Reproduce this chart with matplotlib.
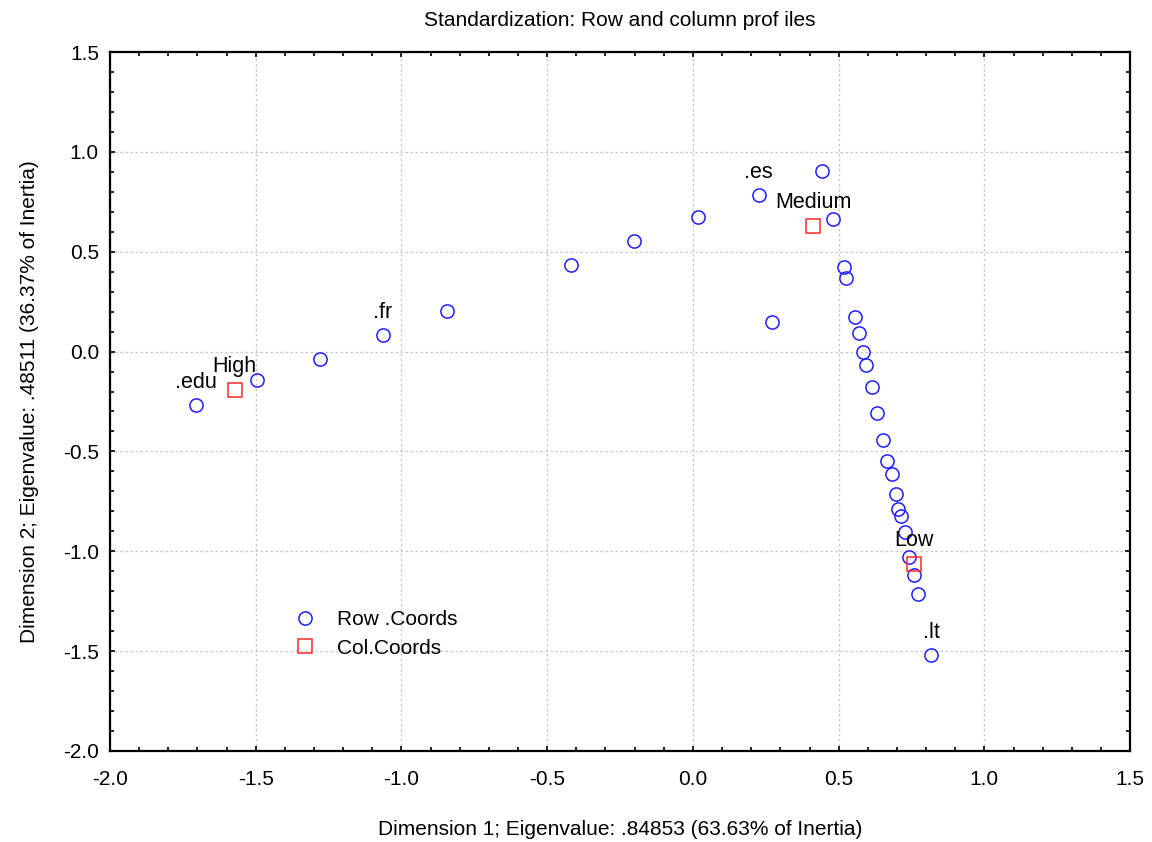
import matplotlib
matplotlib.use("Agg")
import matplotlib.pyplot as plt
from matplotlib.ticker import MultipleLocator, FormatStrFormatter

plt.rcParams['font.family'] = ['Liberation Sans', 'DejaVu Sans']

# Row coordinates (Dimension 1, Dimension 2)
row_x = [-1.706, -1.496, -1.280, -1.063, -0.845, -0.419, -0.201, 0.016, 0.226, 0.444,
         0.480, 0.270, 0.517, 0.525, 0.556, 0.571, 0.584, 0.594, 0.615, 0.630,
         0.653, 0.667, 0.682, 0.697, 0.705, 0.713, 0.728, 0.742, 0.757, 0.772, 0.817]
row_y = [-0.268, -0.144, -0.035, 0.083, 0.203, 0.434, 0.555, 0.674, 0.784, 0.903,
         0.664, 0.150, 0.425, 0.369, 0.172, 0.095, -0.004, -0.069, -0.179, -0.309,
         -0.441, -0.549, -0.614, -0.713, -0.788, -0.823, -0.905, -1.027, -1.119, -1.215, -1.521]
row_labels = {0: ".edu", 3: ".fr", 8: ".es", 30: ".lt"}

# Column coordinates
col_names = ["High", "Medium", "Low"]
col_x = [-1.572, 0.413, 0.757]
col_y = [-0.190, 0.630, -1.062]

fig = plt.figure(figsize=(11.52, 8.42), dpi=100)
ax = fig.add_axes([0.0955, 0.1081, 0.8855, 0.8301])

ax.plot(row_x, row_y, linestyle='none', marker='o', markersize=9.5,
        markerfacecolor='none', markeredgecolor='#1f1fff', markeredgewidth=1.1,
        label='Row .Coords', zorder=3)
ax.plot(col_x, col_y, linestyle='none', marker='s', markersize=9.5,
        markerfacecolor='none', markeredgecolor='#ff2a2a', markeredgewidth=1.1,
        label='Col.Coords', zorder=3)

for i, lab in row_labels.items():
    ax.annotate(lab, (row_x[i], row_y[i]), xytext=(0, 16.5), textcoords='offset points',
                ha='center', va='center', fontsize=15.5)
for name, x, y in zip(col_names, col_x, col_y):
    ax.annotate(name, (x, y), xytext=(0, 16.5), textcoords='offset points',
                ha='center', va='center', fontsize=15.5)

ax.set_xlim(-2.0, 1.5)
ax.set_ylim(-2.0, 1.5)
ax.xaxis.set_major_locator(MultipleLocator(0.5))
ax.yaxis.set_major_locator(MultipleLocator(0.5))
ax.xaxis.set_minor_locator(MultipleLocator(0.1))
ax.yaxis.set_minor_locator(MultipleLocator(0.1))
ax.xaxis.set_major_formatter(FormatStrFormatter('%.1f'))
ax.yaxis.set_major_formatter(FormatStrFormatter('%.1f'))
ax.tick_params(which='both', direction='in', top=True, right=True, width=1.2)
ax.tick_params(which='major', length=3.5, labelsize=15)
ax.tick_params(which='minor', length=3)
ax.tick_params(axis='x', which='major', pad=14)
ax.tick_params(axis='y', which='major', pad=8)
for sp in ax.spines.values():
    sp.set_linewidth(1.6)

ax.grid(True, which='major', linestyle=(0, (2, 2)), color='#c8c8c8', linewidth=0.9)
ax.set_axisbelow(True)

ax.set_xlabel('Dimension 1; Eigenvalue: .84853 (63.63% of Inertia)', fontsize=15, labelpad=22)
ax.set_ylabel('Dimension 2; Eigenvalue: .48511 (36.37% of Inertia)', fontsize=15, labelpad=17)
ax.set_title('Standardization: Row and column prof iles', fontsize=15, pad=19)

ax.legend(loc='upper left', bbox_to_anchor=(0.152, 0.228), frameon=False, fontsize=15,
          handletextpad=0.55, labelspacing=0.45, numpoints=1)

fig.savefig('out.png', dpi=100)
